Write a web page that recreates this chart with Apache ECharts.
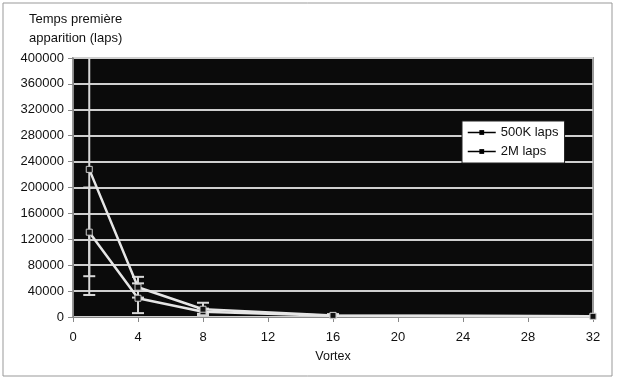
<!DOCTYPE html>
<html>
<head>
<meta charset="utf-8">
<script src="https://cdn.jsdelivr.net/npm/echarts@6/dist/echarts.min.js"></script>
<style>
  html, body { margin: 0; padding: 0; background: #fff; }
  #chart { width: 620px; height: 380px; }
</style>
</head>
<body>
<div id="chart"></div>
<script>
// valeurs
const vortex = [1, 4, 8, 16, 32];
const yTicks = [0, 40000, 400000];

const laps500K = [131000, 29000, 8000, 2000, 1000];
const laps500KLow = [63000, 6000, 3000, 500, 500];
const laps500KHigh = [200000, 52000, 13000, 3500, 1500];

const laps2M = [228000, 46000, 12000, 2500, 1000];
const laps2MLow = [34000, 30000, 5000, 1000, 500];
const laps2MHigh = [420000, 62000, 22000, 4500, 1500];

const chart = echarts.init(document.getElementById('chart'), null, { renderer: 'canvas' });

// barres d'erreur dessinées via renderItem
function errorBars(low, high) {
  return vortex.map((x, i) => [x, low[i], high[i]]);
}

function renderError(params, api) {
  const x = api.value(0);
  const lo = api.coord([x, api.value(1)]);
  const hi = api.coord([x, api.value(2)]);
  const half = 6;
  const style = { stroke: '#d8d8d8', lineWidth: 2 };
  return {
    type: 'group',
    children: [
      { type: 'line', shape: { x1: lo[0], y1: lo[1], x2: hi[0], y2: hi[1] }, style: style },
      { type: 'line', shape: { x1: lo[0] - half, y1: lo[1], x2: lo[0] + half, y2: lo[1] }, style: style },
      { type: 'line', shape: { x1: hi[0] - half, y1: hi[1], x2: hi[0] + half, y2: hi[1] }, style: style }
    ]
  };
}

const option = {
  animation: false,
  backgroundColor: '#fff',
  textStyle: { fontFamily: 'Liberation Sans, Arial, sans-serif' },
  title: {
    text: 'Temps première\napparition (laps)',
    left: 24,
    top: 5,
    textStyle: { fontSize: 13, fontWeight: 'normal', color: '#111', lineHeight: 19 }
  },
  graphic: [{
    type: 'rect',
    shape: { x: 3, y: 3, width: 609, height: 373 },
    style: { fill: 'none', stroke: '#999', lineWidth: 1 },
    silent: true
  }],
  legend: {
    orient: 'vertical',
    left: 462,
    top: 121,
    padding: [5, 6, 5, 5],
    itemGap: 6,
    itemWidth: 28,
    itemHeight: 6,
    backgroundColor: '#fff',
    borderColor: '#222',
    borderWidth: 1,
    borderRadius: 0,
    textStyle: { fontSize: 13, color: '#111' },
    itemStyle: { color: '#000', borderWidth: 0 },
    lineStyle: { color: '#000', width: 1.5 },
    data: ['500K laps', '2M laps']
  },
  grid: {
    left: 73,
    right: 27,
    top: 58,
    bottom: 63,
    show: true,
    backgroundColor: '#0b0b0b',
    borderColor: '#9a9a9a',
    borderWidth: 2
  },
  xAxis: {
    type: 'value',
    min: 0,
    max: 32,
    interval: 4,
    name: 'Vortex',
    nameLocation: 'middle',
    nameGap: 33,
    nameTextStyle: { fontSize: 12.5, color: '#111' },
    axisLine: { lineStyle: { color: '#888' } },
    axisTick: { show: true, length: 5, lineStyle: { color: '#888' } },
    axisLabel: { fontSize: 13, color: '#111', margin: 14 },
    splitLine: { show: false }
  },
  yAxis: {
    type: 'value',
    min: yTicks[0],
    max: yTicks[2],
    interval: yTicks[1],
    axisLine: { show: true, lineStyle: { color: '#888' } },
    axisTick: { show: true, length: 5, lineStyle: { color: '#888' } },
    axisLabel: { fontSize: 13, color: '#111', margin: 9, formatter: v => String(v) },
    splitLine: { show: true, lineStyle: { color: '#cfcfcf', width: 2 } }
  },
  series: [
    {
      type: 'custom',
      renderItem: renderError,
      data: errorBars(laps2MLow, laps2MHigh),
      encode: { x: 0, y: [1, 2] },
      clip: true,
      z: 2
    },
    {
      type: 'custom',
      renderItem: renderError,
      data: errorBars(laps500KLow, laps500KHigh),
      encode: { x: 0, y: [1, 2] },
      clip: true,
      z: 2
    },
    {
      name: '500K laps',
      type: 'line',
      data: vortex.map((x, i) => [x, laps500K[i]]),
      symbol: 'rect',
      symbolSize: 6,
      lineStyle: { color: '#e6e6e6', width: 2.5 },
      itemStyle: { color: '#111', borderColor: '#ccc', borderWidth: 1 },
      z: 3
    },
    {
      name: '2M laps',
      type: 'line',
      data: vortex.map((x, i) => [x, laps2M[i]]),
      symbol: 'rect',
      symbolSize: 6,
      lineStyle: { color: '#e6e6e6', width: 2.5 },
      itemStyle: { color: '#111', borderColor: '#ccc', borderWidth: 1 },
      z: 3
    }
  ]
};

chart.setOption(option);
</script>
</body>
</html>
